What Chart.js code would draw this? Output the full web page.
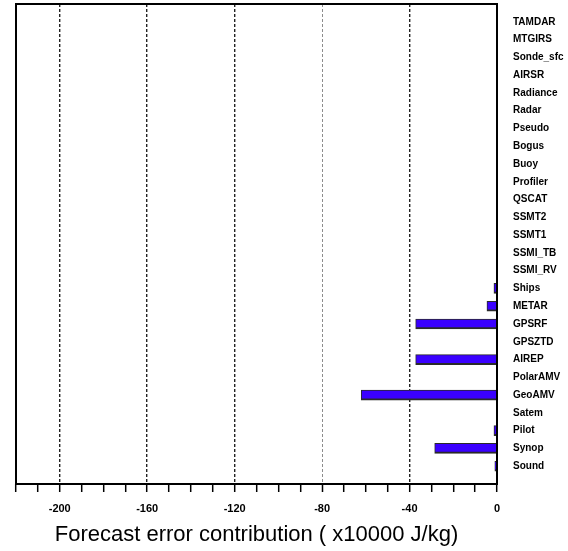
<!DOCTYPE html>
<html>
<head>
<meta charset="utf-8">
<script src="https://cdn.jsdelivr.net/npm/chart.js@4/dist/chart.umd.min.js"></script>
<style>
  html, body { margin: 0; padding: 0; background: #fff; }
  #wrap { width: 568px; height: 551px; }
</style>
</head>
<body>
<div id="wrap"><canvas id="c" width="568" height="551"></canvas></div>
<script>
// Categories, top to bottom
const categories = ["TAMDAR","MTGIRS","Sonde_sfc","AIRSR","Radiance","Radar","Pseudo","Bogus","Buoy","Profiler","QSCAT","SSMT2","SSMT1","SSMI_TB","SSMI_RV","Ships","METAR","GPSRF","GPSZTD","AIREP","PolarAMV","GeoAMV","Satem","Pilot","Synop","Sound"];
// Forecast error contribution (x10000 J/kg)
const contribution = [null,null,null,null,null,null,null,null,null,null,null,null,null,null,null,-1.4,-4.6,-37.2,null,-37.2,null,-62.1,null,-1.4,-28.5,-1.0];
const xTickValues = [-200,-160,-120,-80,-40,0];
const axisTitle = "Forecast error contribution ( x10000 J/kg)";

// padded labels so categories sit one step in from the frame
const labels = [""].concat(categories, [""]);
const data = [null].concat(contribution, [null]);

const framePlugin = {
  id: 'frame',
  afterDatasetsDraw(chart) {
    const {ctx, chartArea: a} = chart;
    ctx.save();
    ctx.strokeStyle = '#000';
    ctx.lineWidth = 2;
    ctx.strokeRect(a.left, a.top, a.right - a.left, a.bottom - a.top);
    ctx.restore();
  }
};

new Chart(document.getElementById('c'), {
  type: 'bar',
  data: {
    labels: labels,
    datasets: [{
      data: data,
      backgroundColor: '#3a00ff',
      borderColor: '#2a2a2a',
      borderWidth: {top: 1, right: 0, bottom: 2, left: 1},
      borderSkipped: false,
      barThickness: 10
    }]
  },
  options: {
    indexAxis: 'y',
    responsive: false,
    animation: false,
    layout: { autoPadding: false, padding: { left: 16, top: 4, right: 0, bottom: 0 } },
    plugins: { legend: { display: false }, tooltip: { enabled: false } },
    scales: {
      x: {
        type: 'linear',
        min: -220,
        max: 0,
        afterFit(s) { s.height = 67; s.paddingLeft = 0; s.paddingRight = 0; },
        ticks: {
          stepSize: 10,
          autoSkip: false,
          maxRotation: 0,
          padding: 10,
          color: '#000',
          font: { family: 'Liberation Sans', size: 11, weight: 'bold' },
          callback: (v) => xTickValues.includes(v) ? String(v) : ''
        },
        grid: {
          color: (c) => {
            const v = c.tick ? c.tick.value : null;
            if (v === -80) return 'rgba(0,0,0,0.45)';
            if (v !== null && v !== 0 && xTickValues.includes(v)) return '#222';
            return 'rgba(0,0,0,0)';
          },
          lineWidth: (c) => (c.tick && c.tick.value === -80) ? 1 : 1.4,
          drawTicks: true,
          tickLength: 8,
          tickColor: '#000',
          tickWidth: 1.5,
          tickBorderDash: []
        },
        border: { display: false, dash: [3, 2] },
        title: {
          display: true,
          text: axisTitle,
          color: '#000',
          font: { family: 'Liberation Sans', size: 22 },
          padding: { top: 0, bottom: 3 }
        }
      },
      y: {
        type: 'category',
        position: 'right',
        offset: false,
        afterFit(s) { s.width = 71; s.paddingTop = 0; s.paddingBottom = 0; },
        grid: { display: false, drawTicks: false },
        border: { display: false },
        ticks: {
          autoSkip: false,
          padding: 16,
          color: '#000',
          font: { family: 'Liberation Sans', size: 10, weight: 'bold' }
        }
      }
    }
  },
  plugins: [framePlugin]
});
</script>
</body>
</html>
